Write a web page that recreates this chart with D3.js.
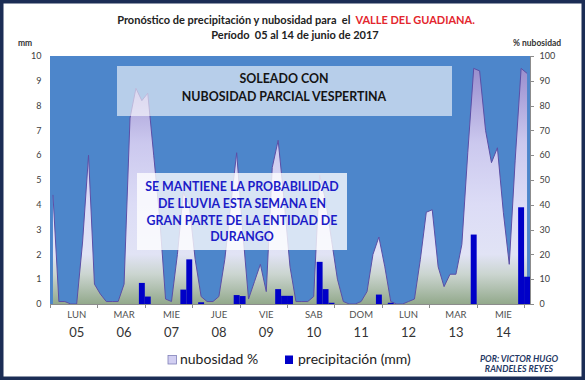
<!DOCTYPE html>
<html><head><meta charset="utf-8">
<script src="https://cdn.jsdelivr.net/npm/d3@7"></script>
<style>
html,body{margin:0;padding:0;background:#fff;}
svg{display:block;font-family:Lato,"Open Sans",sans-serif;}
text{white-space:pre;}
</style></head>
<body>
<svg id="c" width="585" height="380"></svg>
<script>
// ---- data ----
const dias = ["LUN","MAR","MIE","JUE","VIE","SAB","DOM","LUN","MAR","MIE"];
const fechas = ["05","06","07","08","09","10","11","12","13","14"];
const puntosPorDia = 8;
// nubosidad (%) every 3 h
const nubosidad = [44,1,1,0,0,25,60,8,4,1,
  1,1,8,75,87,82,85,60,35,2,
  1,20,45,40,18,3,1,1,3,18,
  40,61,30,2,9,16,5,55,66,42,
  15,1,1,1,3,52,42,26,10,1,
  0,0,1,5,20,27,15,1,0,0,
  1,2,18,37,38,15,7,12,12,24,
  61,95,94,70,57,63,37,16,58,95,93];
// precipitación (mm) every 3 h
const precipitacion = [0,0,0,0,0,0,0,0,0,0,
  0,0,0,0,0,0.85,0.3,0,0,0,
  0,0,0.58,1.8,0,0.07,0,0,0,0,
  0,0.36,0.32,0,0,0,0,0,0.6,0.33,
  0.33,0,0,0,0,1.7,0.6,0.05,0,0,
  0,0,0,0,0,0.38,0,0.05,0,0,
  0,0,0,0,0,0,0,0,0,0,
  0,2.8,0,0,0,0,0,0,0,3.9,1.1];
const ticksMm = [0,1,2,3,4,5,6,7,8,9,10];
const ticksPct = [0,10,20,30,40,50,60,70,80,90,100];
const titulo1a = "Pronóstico de precipitación y nubosidad para  el  ";
const titulo1b = "VALLE DEL GUADIANA.";
const titulo2 = "Período  05 al 14 de junio de 2017";
const caja1 = ["SOLEADO CON","NUBOSIDAD PARCIAL VESPERTINA"];
const caja2 = ["SE MANTIENE LA PROBABILIDAD","DE LLUVIA ESTA SEMANA EN","GRAN PARTE DE LA ENTIDAD DE","DURANGO"];
const autor = ["POR: VICTOR HUGO","RANDELES REYES"];

// ---- layout ----
const L=50, R=530, T=56, B=304;
const N = nubosidad.length;
const svg = d3.select("#c");
const x = d3.scaleLinear().domain([0,N]).range([L,R]);
const yMm = d3.scaleLinear().domain([0,10]).range([B,T]);
const yPct = d3.scaleLinear().domain([0,100]).range([B,T]);

const defs = svg.append("defs");
const g = defs.append("linearGradient").attr("id","gArea")
  .attr("gradientUnits","userSpaceOnUse").attr("x1",0).attr("y1",T).attr("x2",0).attr("y2",B);
[[0,"#9286c6"],[0.12,"#a59bd6"],[0.35,"#cbc8ee"],[0.6,"#dcdcf6"],[0.8,"#e1e3f5"],[0.88,"#cbd5d0"],[1,"#93a98c"]]
  .forEach(([o,c])=>g.append("stop").attr("offset",o).attr("stop-color",c));

svg.append("rect").attr("x",0).attr("y",0).attr("width",585).attr("height",380).attr("fill","#fff");

// plot background
svg.append("rect").attr("x",L).attr("y",T).attr("width",R-L).attr("height",B-T).attr("fill","#4d86cb");

// area
const area = d3.area().x((d,i)=>x(i+0.5)).y0(B).y1(d=>yPct(d));
svg.append("path").datum(nubosidad).attr("d",area).attr("fill","url(#gArea)");
const line = d3.line().x((d,i)=>x(i+0.5)).y(d=>yPct(d));
svg.append("path").datum(nubosidad).attr("d",line).attr("fill","none").attr("stroke","#5b4fa6").attr("stroke-width",1);

// bars
svg.append("g").selectAll("rect").data(precipitacion).join("rect")
  .attr("x",(d,i)=>x(i)).attr("width",(d,i)=>x(i+1)-x(i))
  .attr("y",d=>yMm(d)).attr("height",d=>B-yMm(d)).attr("fill","#0000c8");

// text boxes
svg.append("rect").attr("x",117).attr("y",66).attr("width",335).attr("height",50).attr("fill","rgba(255,255,255,0.6)");
svg.append("g").selectAll("text").data(caja1).join("text")
  .attr("x",284).attr("y",(d,i)=>82.5+i*18.5).attr("text-anchor","middle")
  .attr("font-size",12.4).attr("font-weight","bold").attr("fill","#141414").text(d=>d);
svg.append("rect").attr("x",137).attr("y",173).attr("width",210).attr("height",77).attr("fill","rgba(255,255,255,0.78)");
svg.append("g").selectAll("text").data(caja2).join("text")
  .attr("x",242).attr("y",(d,i)=>191+i*16.8).attr("text-anchor","middle")
  .attr("font-size",12.4).attr("font-weight","bold").attr("fill","#1c1cc8").text(d=>d);

// axes
svg.append("line").attr("x1",L).attr("x2",R).attr("y1",B+0.5).attr("y2",B+0.5).attr("stroke","#8c8c8c");
svg.append("line").attr("x1",R+0.5).attr("x2",R+0.5).attr("y1",T).attr("y2",B).attr("stroke","#8c8c8c");
svg.append("g").selectAll("line").data(d3.range(0,N,puntosPorDia).concat([80])).join("line")
  .attr("x1",d=>Math.round(x(d))+0.5).attr("x2",d=>Math.round(x(d))+0.5).attr("y1",B).attr("y2",B+4).attr("stroke","#8c8c8c");
svg.append("g").selectAll("line").data(ticksPct).join("line")
  .attr("x1",R).attr("x2",R+4).attr("y1",d=>Math.round(yPct(d))+0.5).attr("y2",d=>Math.round(yPct(d))+0.5).attr("stroke","#8c8c8c");

svg.append("g").selectAll("text").data(ticksMm).join("text")
  .attr("x",41.5).attr("y",d=>yMm(d)+3.2).attr("text-anchor","end").attr("font-size",9).attr("fill","#404040").text(d=>d);
svg.append("g").selectAll("text").data(ticksPct).join("text")
  .attr("x",539.5).attr("y",d=>yPct(d)+3.2).attr("font-size",9).attr("fill","#404040").text(d=>d);

svg.append("g").selectAll("text").data(dias).join("text")
  .attr("x",(d,i)=>x(i*puntosPorDia+puntosPorDia/2)+3).attr("y",318).attr("text-anchor","middle")
  .attr("font-size",9.5).attr("fill","#505050").text(d=>d);
svg.append("g").selectAll("text").data(fechas).join("text")
  .attr("x",(d,i)=>x(i*puntosPorDia+puntosPorDia/2)+3).attr("y",336.5).attr("text-anchor","middle")
  .attr("font-size",13).attr("fill","#333").text(d=>d);

// axis titles
svg.append("text").attr("x",18).attr("y",46).attr("font-size",8.5).attr("font-weight","bold").attr("fill","#333").text("mm");
svg.append("text").attr("x",513).attr("y",46).attr("font-size",8.5).attr("font-weight","bold").attr("fill","#333").text("% nubosidad");

// title
const t1 = svg.append("text").attr("x",296).attr("y",24).attr("text-anchor","middle").attr("font-size",11).attr("font-weight","bold");
t1.append("tspan").attr("fill","#222").text(titulo1a);
t1.append("tspan").attr("fill","#e3262e").text(titulo1b);
svg.append("text").attr("x",295).attr("y",39).attr("text-anchor","middle").attr("font-size",11).attr("font-weight","bold").attr("fill","#222").text(titulo2);

// legend
svg.append("rect").attr("x",168).attr("y",355.5).attr("width",8.5).attr("height",8.5).attr("fill","#d2cff2").attr("stroke","#8080b8").attr("stroke-width",0.8);
svg.append("text").attr("x",180).attr("y",364).attr("font-size",14).attr("fill","#222").text("nubosidad %");
svg.append("rect").attr("x",285).attr("y",355.5).attr("width",8).attr("height",8.5).attr("fill","#0000c8");
svg.append("text").attr("x",298).attr("y",364).attr("font-size",14).attr("fill","#222").text("precipitación (mm)");

svg.append("g").selectAll("text").data(autor).join("text")
  .attr("x",519).attr("y",(d,i)=>362+i*9.5).attr("text-anchor","middle")
  .attr("font-size",8.8).attr("font-weight","bold").attr("font-style","italic").attr("fill","#1f3864").text(d=>d);

// frame
svg.append("rect").attr("x",1.75).attr("y",1.75).attr("width",581.5).attr("height",376.5)
  .attr("fill","none").attr("stroke","#1b2d55").attr("stroke-width",3.5);
</script>
</body></html>
